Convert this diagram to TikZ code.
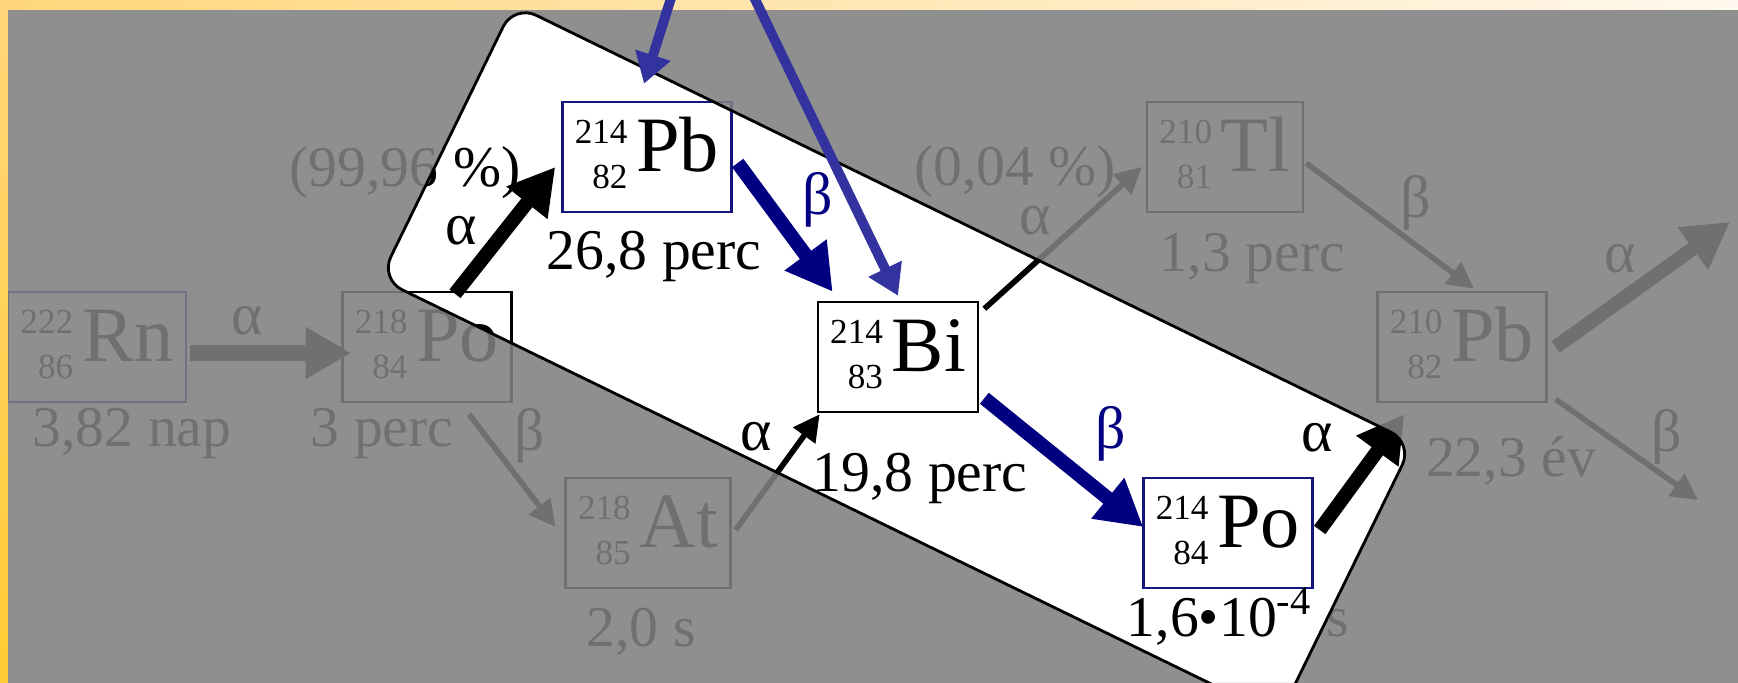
\documentclass[tikz,border=0pt]{standalone}
\usepackage{fontspec}
\setmainfont{Liberation Serif}
\usetikzlibrary{arrows.meta}

\definecolor{boxnavy}{RGB}{20,20,128}
\definecolor{betanavy}{RGB}{0,0,128}
\definecolor{feedblue}{RGB}{51,51,160}
\definecolor{stripeyellow}{RGB}{255,204,51}
\definecolor{stripetop}{RGB}{255,214,122}
\definecolor{stripefade}{RGB}{255,248,238}

% Kern mit Massenzahl und Ordnungszahl
\newcommand\izotop[3]{\raisebox{-4.8pt}{\fontsize{10}{12.8}\selectfont\begin{tabular}[b]{@{}r@{}}#1\\#2\end{tabular}}\kern2.5pt\fontsize{22.3}{24}\selectfont #3}

\begin{document}
\begin{tikzpicture}[x=0.01cm, y=-0.01cm,
	nucbox/.style={draw, line width=0.7pt, inner xsep=3.5pt, inner ysep=0pt, minimum height=1.1cm},
	halflife/.style={anchor=base, inner sep=0pt, font=\fontsize{16.4}{18}\selectfont},
	decay/.style={inner sep=0pt, font=\fontsize{17}{19}\selectfont},
	fat/.style={line width=4pt, -{Triangle[length=13pt,width=14pt]}},
	slim/.style={line width=1.6pt, -{Triangle[length=7.5pt,width=7.5pt]}},
	feed/.style={feedblue, line width=2.8pt, -{Triangle[length=8.5pt,width=10pt]}}]
	
	% Rahmen
	\useasboundingbox (0,0) rectangle (1738,683);
	\fill[white] (0,0) rectangle (1738,683);
	
	% Kerne
	\node[nucbox, draw=boxnavy] (rn222) at (97,347) {\izotop{222}{86}{Rn}};
	\node[nucbox] (po218) at (427,347) {\izotop{218}{84}{Po}};
	\node[nucbox] (at218) at (648,533) {\izotop{218}{85}{At}};
	\node[nucbox, draw=boxnavy] (pb214) at (647,157) {\izotop{214}{82}{Pb}};
	\node[nucbox] (bi214) at (898,357) {\izotop{214}{83}{Bi}};
	\node[nucbox, draw=boxnavy] (po214) at (1228,533) {\izotop{214}{84}{Po}};
	\node[nucbox] (tl210) at (1225,157) {\izotop{210}{81}{Tl}};
	\node[nucbox] (pb210) at (1462,347) {\izotop{210}{82}{Pb}};
	
	% Halbwertszeiten und Anteile
	\node[halflife] (t-rn222) at (132,447) {3,82 nap};
	\node[halflife] (t-po218) at (382,447) {3 perc};
	\node[halflife] (t-at218) at (641,647) {2,0 s};
	\node[halflife] (t-pb214) at (654,270) {26,8 perc};
	\node[halflife] (t-bi214) at (920,492) {19,8 perc};
	\node[halflife] (t-po214) at (1238,637) {1,6•10\textsuperscript{-4} s};
	\node[halflife] (t-tl210) at (1252,272) {1,3 perc};
	\node[halflife] (t-pb210) at (1511,477) {22,3 év};
	\node[halflife] (p-main) at (405,187) {(99,96 \%)};
	\node[halflife] (p-side) at (1015,186) {(0,04 \%)};
	
	% Zerfallsarten
	\node[decay] (a1) at (247,321) {α};
	\node[decay] (b1) at (530,436) {β};
	\node[decay] (a2) at (461,231) {α};
	\node[decay, text=betanavy] (b2) at (818,200) {β};
	\node[decay] (a3) at (756,437) {α};
	\node[decay, text=betanavy] (b3) at (1111,434) {β};
	\node[decay] (a4) at (1035,221) {α};
	\node[decay] (b4) at (1416,203) {β};
	\node[decay] (a5) at (1317,438) {α};
	\node[decay] (a6) at (1620,259) {α};
	\node[decay] (b5) at (1667,437) {β};
	
	% freie Enden
	\coordinate (a6end) at (1730,222);
	\coordinate (b5end) at (1698,500);
	\coordinate (feedA) at (672,-5);
	\coordinate (feedB) at (753,-5);
	
	% Zerfallspfeile
	\draw[fat, line width=4.3pt] ([shift={(3,6)}]rn222.east) -- ([shift={(10,6)}]po218.west);
	\draw[fat] ([shift={(28,3)}]po218.north) -- ([shift={(-6,10)}]pb214.west);
	\draw[slim] ([shift={(42,11)}]po218.south) -- ([shift={(-9,-6)}]at218.west);
	\draw[fat, betanavy] ([shift={(5,6)}]pb214.east) -- ([shift={(16,-9)}]bi214.north west);
	\draw[slim] ([shift={(4,-3)}]at218.east) -- ([shift={(3,1)}]bi214.south west);
	\draw[fat, betanavy] ([shift={(5,-15)}]bi214.south east) -- ([shift={(1,-6)}]po214.west);
	\draw[slim] ([shift={(5,8)}]bi214.north east) -- ([shift={(-4,10)}]tl210.west);
	\draw[slim] ([shift={(2,6)}]tl210.east) -- ([shift={(12,-2)}]pb210.north);
	\draw[fat] ([shift={(6,-3)}]po214.east) -- ([shift={(28,11)}]pb210.south west);
	\draw[fat] ([shift={(8,0)}]pb210.east) -- (a6end);
	\draw[slim] ([shift={(8,-4)}]pb210.south east) -- (b5end);
	
	% Fenster
	\coordinate (wm) at (447,142);
	\coordinate (wa) at (514,4.5);
	\coordinate (wb) at (1413,443);
	\coordinate (wc) at (1279,717);
	\coordinate (wd) at (380,279);
	
	% Graue Abdeckung ausserhalb des Fensters
	\fill[black!50, fill opacity=0.88, even odd rule]
	(0,0) rectangle (1738,683)
	[rounded corners=7pt] (wm) -- (wa) -- (wb) -- (wc) -- (wd) -- cycle;
	
	\draw[line width=0.8pt, rounded corners=7pt]
	(wm) -- (wa) -- (wb) -- (wc) -- (wd) -- cycle;
	
	% Folienrand
	\shade[left color=stripetop, right color=stripefade] (0,0) rectangle (1738,10);
	\shade[top color=stripetop, bottom color=stripeyellow] (0,0) rectangle (8,683);
	
	% Zufuhr von oben
	\draw[feed] (feedA) -- ([shift={(-3,-17)}]pb214.north);
	\draw[feed] (feedB) -- ([shift={(0,-5)}]bi214.north);
	
\end{tikzpicture}
\end{document}
